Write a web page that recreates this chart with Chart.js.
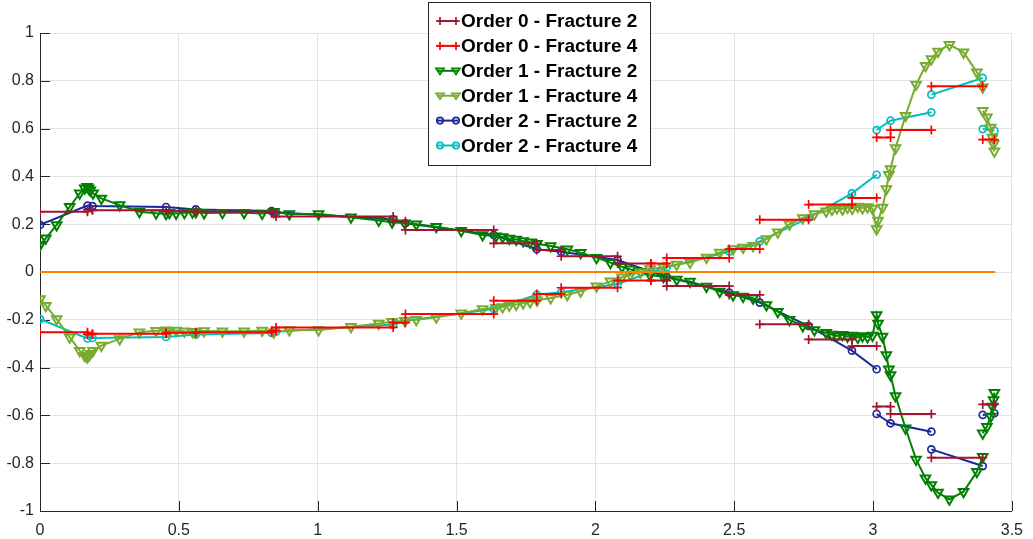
<!DOCTYPE html>
<html lang="en">
<head>
<meta charset="UTF-8">
<title>Fracture values by order</title>
<script src="https://cdn.jsdelivr.net/npm/chart.js"></script>
<style>
  html, body { margin: 0; padding: 0; background: #fff; }
  canvas { display: block; }
</style>
</head>
<body>
<canvas id="fractureChart" width="1033" height="539"></canvas>
<script>
// axis ticks
const xTicks = [0, 0.5, 1, 1.5, 2, 2.5, 3, 3.5];
const yTicks = [-1, -0.8, -0.6, -0.4, -0.2, 0, 0.2, 0.4, 0.6, 0.8, 1];

// order 0: element edges and one constant value per element
const order0Edges = [0, 0.171, 0.189, 0.454, 0.561, 0.834, 0.850, 1.272, 1.316, 1.634, 1.789, 1.877,
  2.080, 2.200, 2.257, 2.482, 2.592, 2.768, 2.924, 3.013, 3.063, 3.210, 3.395, 3.437];
const order0Frac2 = [0.252, 0.260, 0.258, 0.254, 0.252, 0.246, 0.232, 0.212, 0.176, 0.120, 0.092,
  0.066, 0.036, -0.036, -0.059, -0.096, -0.219, -0.282, -0.310, -0.563, -0.594, -0.777, -0.554];
const order0Frac4 = [-0.252, -0.260, -0.258, -0.254, -0.252, -0.246, -0.232, -0.212, -0.176, -0.120, -0.092,
  -0.066, -0.036, 0.036, 0.059, 0.096, 0.219, 0.282, 0.310, 0.563, 0.594, 0.777, 0.554];

// order 1: sample points (null = break between pieces)
const order1X = [0.000, 0.021, 0.060, 0.107, 0.143, 0.161, 0.170, 0.175, 0.181, 0.191, 0.221, 0.287,
  0.358, 0.418, 0.454, 0.466, 0.490, 0.520, 0.549, 0.561, 0.591, 0.657, 0.735, 0.800, 0.842, 0.898,
  1.003, 1.120, 1.220, 1.268, 1.314, 1.355, 1.427, 1.517, 1.594, 1.642, 1.666, 1.690, 1.715, 1.740,
  1.765, 1.790, 1.839, 1.899, 1.947, 2.004, 2.054, 2.096, 2.126, 2.162, 2.197, 2.245, 2.293, 2.341,
  2.400, 2.448, 2.496, 2.532, 2.568, 2.616, 2.657, 2.699, 2.747, 2.789, 2.831, 2.852, 2.870, 2.890,
  2.908, 2.925, 2.945, 2.962, 2.980, 2.998, 3.013, 3.018, 3.034, 3.048, 3.057, 3.063, 3.081, 3.117,
  3.155, 3.189, 3.210, 3.234, 3.275, 3.326, 3.374, 3.395, 3.395, 3.395, 3.410, 3.424, 3.430, 3.434, 3.437];
const order1Frac2 = [0.113, 0.141, 0.197, 0.273, 0.329, 0.350, 0.357, 0.350, 0.342, 0.329, 0.308, 0.280,
  0.252, 0.246, 0.244, 0.248, 0.245, 0.248, 0.250, 0.251, 0.247, 0.248, 0.248, 0.245, 0.252, 0.243,
  0.243, 0.229, 0.215, 0.208, 0.204, 0.200, 0.189, 0.173, 0.155, 0.150, 0.146, 0.140, 0.136, 0.130,
  0.125, 0.118, 0.109, 0.095, 0.081, 0.060, 0.039, 0.022, 0.011, 0.001, -0.013, -0.020, -0.031, -0.040,
  -0.061, -0.082, -0.096, -0.103, -0.110, -0.138, -0.166, -0.200, -0.226, -0.243, -0.254, -0.262, -0.268, -0.263,
  -0.270, -0.266, -0.274, -0.268, -0.272, -0.266, -0.180, -0.215, -0.270, -0.347, -0.407, -0.431, -0.519, -0.654,
  -0.784, -0.863, -0.891, -0.923, -0.951, -0.919, -0.836, -0.773, null, -0.675, -0.647, -0.605, -0.563, -0.536, -0.505];
const order1Frac4 = [-0.113, -0.141, -0.197, -0.273, -0.329, -0.350, -0.357, -0.350, -0.342, -0.329, -0.308, -0.280,
  -0.252, -0.246, -0.244, -0.248, -0.245, -0.248, -0.250, -0.251, -0.247, -0.248, -0.248, -0.245, -0.252, -0.243,
  -0.243, -0.229, -0.215, -0.208, -0.204, -0.200, -0.189, -0.173, -0.155, -0.150, -0.146, -0.140, -0.136, -0.130,
  -0.125, -0.118, -0.109, -0.095, -0.081, -0.060, -0.039, -0.022, -0.011, -0.001, 0.013, 0.020, 0.031, 0.040,
  0.061, 0.082, 0.096, 0.103, 0.110, 0.138, 0.166, 0.200, 0.226, 0.243, 0.254, 0.262, 0.268, 0.263,
  0.270, 0.266, 0.274, 0.268, 0.272, 0.266, 0.180, 0.215, 0.270, 0.347, 0.407, 0.431, 0.519, 0.654,
  0.784, 0.863, 0.891, 0.923, 0.951, 0.919, 0.836, 0.773, null, 0.675, 0.647, 0.605, 0.563, 0.536, 0.505];

// order 2: values at element ends (null = jump between elements)
const order2X = [0, 0.171, 0.189, 0.454, 0.561, 0.834, 0.850, 1.272, 1.316, 1.634, 1.789, 1.877, 2.080,
  2.200, 2.257, 2.482, 2.592, 2.768, 2.924, 3.013, 3.013, 3.013, 3.063, 3.210, 3.210, 3.210, 3.395,
  3.395, 3.395, 3.437];
const order2Frac2 = [0.197, 0.278, 0.276, 0.272, 0.262, 0.255, 0.250, 0.220, 0.204, 0.155, 0.095, 0.085,
  0.050, 0.001, -0.020, -0.086, -0.128, -0.226, -0.329, -0.407, null, -0.594, -0.633, -0.668, null,
  -0.742, -0.812, null, -0.598, -0.591];
const order2Frac4 = [-0.197, -0.278, -0.276, -0.272, -0.262, -0.255, -0.250, -0.220, -0.204, -0.155, -0.095, -0.085,
  -0.050, -0.001, 0.020, 0.086, 0.128, 0.226, 0.329, 0.407, null, 0.594, 0.633, 0.668, null,
  0.742, 0.812, null, 0.598, 0.591];

// zero reference line
const zeroX = [0, 3.44];
const zeroY = [0, 0];

// turn element values into flat pieces with a break after each one
function stepPoints(edges, values) {
  const pts = [];
  values.forEach((v, i) => {
    pts.push({ x: edges[i], y: v }, { x: edges[i + 1], y: v }, { x: edges[i + 1], y: null });
  });
  return pts;
}

function toPoints(xs, ys) {
  return xs.map((x, i) => ({ x: x, y: ys[i] }));
}

const FONT = '"Liberation Sans", Arial, Helvetica, sans-serif';
const AXIS_COLOR = '#262626';

function series(label, points, color, style, radius, order) {
  return {
    label: label,
    data: points,
    borderColor: color,
    backgroundColor: 'rgba(0,0,0,0)',
    borderWidth: 2,
    pointStyle: style,
    pointRadius: radius,
    pointBorderWidth: style === 'triangle' ? 2 : 1.7,
    pointBorderColor: color,
    pointBackgroundColor: 'rgba(0,0,0,0)',
    pointRotation: style === 'triangle' ? 180 : 0,
    spanGaps: false,
    order: order
  };
}

const datasets = [
  series('Order 0 - Fracture 2', stepPoints(order0Edges, order0Frac2), 'rgb(162,20,47)', 'cross', 4.5, 2),
  series('Order 0 - Fracture 4', stepPoints(order0Edges, order0Frac4), 'rgb(255,0,0)', 'cross', 4.5, 1),
  series('Order 1 - Fracture 2', toPoints(order1X, order1Frac2), 'rgb(0,128,0)', 'triangle', 5.5, 4),
  series('Order 1 - Fracture 4', toPoints(order1X, order1Frac4), 'rgb(119,172,48)', 'triangle', 5.5, 3),
  series('Order 2 - Fracture 2', toPoints(order2X, order2Frac2), 'rgb(25,40,150)', 'circle', 3.5, 6),
  series('Order 2 - Fracture 4', toPoints(order2X, order2Frac4), 'rgb(0,190,190)', 'circle', 3.5, 5),
  {
    label: '',
    data: toPoints(zeroX, zeroY),
    borderColor: 'rgb(255,128,0)',
    borderWidth: 2,
    pointRadius: 0,
    order: 0
  }
];

// small marker drawing for the legend box
function drawMarker(ctx, style, x, y, r) {
  ctx.beginPath();
  if (style === 'cross') {
    ctx.moveTo(x - r, y); ctx.lineTo(x + r, y);
    ctx.moveTo(x, y - r); ctx.lineTo(x, y + r);
  } else if (style === 'triangle') {
    ctx.moveTo(x - r, y - r * 0.6); ctx.lineTo(x + r, y - r * 0.6); ctx.lineTo(x, y + r * 0.9); ctx.closePath();
  } else {
    ctx.arc(x, y, r * 0.8, 0, Math.PI * 2);
  }
  ctx.stroke();
}

const boxLegend = {
  id: 'boxLegend',
  afterDraw(chart) {
    const ctx = chart.ctx;
    const items = chart.data.datasets.filter(d => d.label);
    const left = 428.5, top = 2.5, w = 222, rowH = 24.9;
    const h = 163;
    ctx.save();
    ctx.fillStyle = '#fff';
    ctx.fillRect(left, top, w, h);
    ctx.strokeStyle = AXIS_COLOR;
    ctx.lineWidth = 1;
    ctx.strokeRect(left, top, w, h);
    ctx.font = 'bold 19px ' + FONT;
    ctx.textBaseline = 'middle';
    items.forEach((d, i) => {
      const y = 21 + i * rowH;
      ctx.strokeStyle = d.borderColor;
      ctx.lineWidth = 2;
      ctx.beginPath();
      ctx.moveTo(437, y); ctx.lineTo(458, y);
      ctx.stroke();
      ctx.lineWidth = 1.7;
      drawMarker(ctx, d.pointStyle, 440, y, 4);
      drawMarker(ctx, d.pointStyle, 456, y, 4);
      ctx.fillStyle = '#000';
      ctx.fillText(d.label, 461, y + 1);
    });
    ctx.restore();
  }
};

// tick marks pointing into the plot on the left and bottom axes
const inwardTicks = {
  id: 'inwardTicks',
  beforeDatasetsDraw(chart) {
    const ctx = chart.ctx, a = chart.chartArea;
    const xs = chart.scales.x, ys = chart.scales.y;
    ctx.save();
    ctx.strokeStyle = AXIS_COLOR;
    ctx.lineWidth = 1;
    ctx.beginPath();
    xTicks.forEach(v => {
      const px = Math.round(xs.getPixelForValue(v)) + 0.5;
      ctx.moveTo(px, a.bottom); ctx.lineTo(px, a.bottom - 10);
    });
    yTicks.forEach(v => {
      const py = Math.round(ys.getPixelForValue(v)) + 0.5;
      ctx.moveTo(a.left, py); ctx.lineTo(a.left + 10, py);
    });
    ctx.stroke();
    ctx.restore();
  }
};

new Chart(document.getElementById('fractureChart'), {
  type: 'line',
  data: { datasets: datasets },
  options: {
    responsive: false,
    animation: false,
    devicePixelRatio: 1,
    layout: { padding: { top: 33, right: 16, left: 0, bottom: 0 } },
    plugins: {
      legend: { display: false },
      tooltip: { enabled: false }
    },
    scales: {
      x: {
        type: 'linear',
        min: 0,
        max: 3.5,
        afterBuildTicks: s => { s.ticks = xTicks.map(v => ({ value: v })); },
        afterFit: s => { s.height = 28; },
        grid: { color: '#e3e3e3', drawTicks: false },
        border: { color: AXIS_COLOR },
        ticks: {
          padding: 10,
          color: AXIS_COLOR,
          maxRotation: 0,
          autoSkip: false,
          font: { family: FONT, size: 16 },
          callback: v => String(v)
        }
      },
      y: {
        type: 'linear',
        min: -1,
        max: 1,
        afterBuildTicks: s => { s.ticks = yTicks.map(v => ({ value: v })); },
        afterFit: s => { s.width = 40; },
        grid: { color: '#e3e3e3', drawTicks: false },
        border: { color: AXIS_COLOR },
        ticks: {
          padding: 6,
          color: AXIS_COLOR,
          autoSkip: false,
          font: { family: FONT, size: 16 },
          callback: v => String(Math.round(v * 10) / 10)
        }
      }
    }
  },
  plugins: [inwardTicks, boxLegend]
});
</script>
</body>
</html>
